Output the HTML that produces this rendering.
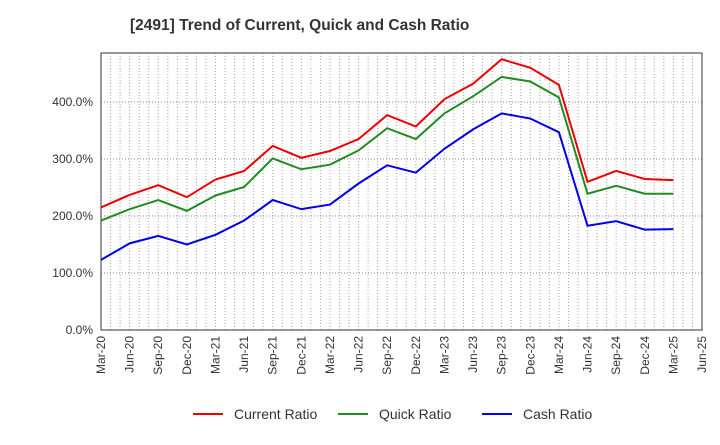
<!DOCTYPE html>
<html><head><meta charset="utf-8"><style>
body{margin:0;background:#fff;font-family:"Liberation Sans",sans-serif;}
</style></head><body>
<svg id="c" width="720" height="440" xmlns="http://www.w3.org/2000/svg">
<text x="130" y="30" font-size="15.5" font-weight="bold" fill="#333">[2491]  Trend of Current, Quick and Cash Ratio</text>
</svg>
<script>
const categories=["Mar-20","Jun-20","Sep-20","Dec-20","Mar-21","Jun-21","Sep-21","Dec-21","Mar-22","Jun-22","Sep-22","Dec-22","Mar-23","Jun-23","Sep-23","Dec-23","Mar-24","Jun-24","Sep-24","Dec-24","Mar-25","Jun-25"];
const currentRatio=[215,237,254,233,264,279,323,302,314,335,377,357,405,432,475,460,430,260,279,265,263];
const quickRatio=[192,212,228,209,236,251,301,282,290,315,354,335,380,410,444,436,408,239,253,239,239];
const cashRatio=[123,152,165,150,167,192,228,212,220,257,289,276,318,352,380,371,347,183,191,176,177];
const yTicks=[0,100,200,300,400];
const svg=document.getElementById('c');const NS='http://www.w3.org/2000/svg';
const L=101,R=702,T=53,B=330;
const x=i=>L+(R-L)*i/(categories.length-1);
const y=v=>B-v*0.57;
function el(t,a,p){const e=document.createElementNS(NS,t);for(const k in a)e.setAttribute(k,a[k]);(p||svg).appendChild(e);return e;}
el('rect',{x:L,y:T,width:R-L,height:B-T,fill:'#fff'});
const grid=el('g',{});


for(let m=1;m<(categories.length-1)*3;m++){const xx=L+(R-L)*m/((categories.length-1)*3);el('line',{x1:xx,x2:xx,y1:T,y2:B,stroke:'#aaa','stroke-dasharray':'1,2','stroke-width':1},grid);}
yTicks.forEach(v=>{if(v>0)el('line',{x1:L,x2:R,y1:y(v),y2:y(v),stroke:'#888','stroke-dasharray':'1,2'},grid);
const t=el('text',{x:L-8,y:y(v)+4,'text-anchor':'end','font-size':12,fill:'#333'});t.textContent=v.toFixed(1)+'%';

});
el('rect',{x:L,y:T,width:R-L,height:B-T,fill:'none',stroke:'#333','stroke-width':1});
categories.forEach((c,i)=>{const t=el('text',{transform:`translate(${x(i)+4},${B+6}) rotate(-90)`,'text-anchor':'end','font-size':12,fill:'#333'});t.textContent=c;

});
function series(d,col,name){const p=el('polyline',{points:d.map((v,i)=>x(i)+','+y(v)).join(' '),fill:'none',stroke:col,'stroke-width':2});

}
series(currentRatio,'#e00','current-ratio-line');
series(quickRatio,'#228b22','quick-ratio-line');
series(cashRatio,'#00e','cash-ratio-line');
[['Current Ratio','#e00',193],['Quick Ratio','#228b22',338],['Cash Ratio','#00e',482]].forEach(([n,c,lx])=>{
const g=el('g',{});


el('line',{x1:lx,x2:lx+30,y1:414,y2:414,stroke:c,'stroke-width':2},g);
const t=el('text',{x:lx+41,y:419,'font-size':14,fill:'#333'},g);t.textContent=n;});
</script>
</body></html>
